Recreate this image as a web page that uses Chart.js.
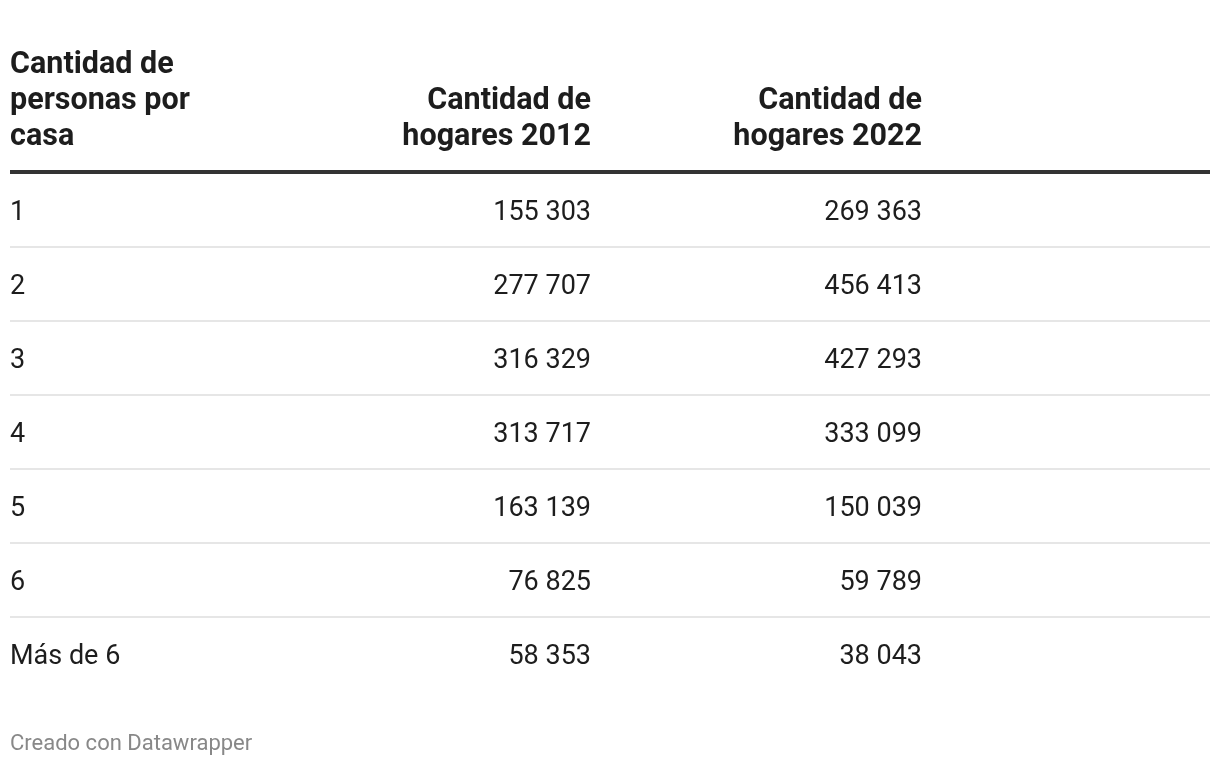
<!DOCTYPE html>
<html>
<head>
<meta charset="utf-8">
<script src="https://cdn.jsdelivr.net/npm/chart.js@4"></script>
<style>
	html, body { margin: 0; padding: 0; background: #fff; }
	#wrap { width: 1220px; height: 766px; position: relative; }
</style>
</head>
<body>
<div id="wrap"><canvas id="hogaresChart"></canvas></div>
<script>
// filas y columnas de la tabla
const personas = ["1", "2", "3", "4", "5", "6", "Más de 6"];
const hogares2012 = [155303, 277707, 316329, 313717, 163139, 76825, 58353];
const hogares2022 = [269363, 456413, 427293, 333099, 150039, 59789, 38043];
const encabezados = [
	["Cantidad de", "personas por", "casa"],
	["Cantidad de", "hogares 2012"],
	["Cantidad de", "hogares 2022"],
];
const pie = "Creado con Datawrapper";

const FONT = "Roboto, 'Noto Sans', sans-serif";
const colRight = [591, 922]; // borde derecho de cada columna numérica

function formatNum(v) {
	return String(v).replace(/\B(?=(\d{3})+(?!\d))/g, " ");
}

const tablePlugin = {
	id: "tablePlugin",
	afterDraw(chart) {
		const ctx = chart.ctx;
		const area = chart.chartArea;
		const yScale = chart.scales.y;
		ctx.save();

		// encabezados, alineados abajo
		ctx.font = "bold 30.5px " + FONT;
		ctx.fillStyle = "#1d1d1d";
		ctx.textBaseline = "alphabetic";
		const base = area.top - 28;
		encabezados.forEach((lines, c) => {
			ctx.textAlign = c === 0 ? "left" : "right";
			const x = c === 0 ? 10 : colRight[c - 1];
			lines.forEach((t, k) => {
				ctx.fillText(t, x, base - (lines.length - 1 - k) * 36);
			});
		});

		// línea gruesa bajo el encabezado
		ctx.strokeStyle = "#333";
		ctx.lineWidth = 4;
		ctx.beginPath();
		ctx.moveTo(area.left, area.top - 1);
		ctx.lineTo(area.right, area.top - 1);
		ctx.stroke();

		// etiquetas de fila
		ctx.font = "27px " + FONT;
		ctx.fillStyle = "#1d1d1d";
		ctx.textAlign = "left";
		personas.forEach((p, i) => {
			ctx.fillText(p, area.left, yScale.getPixelForValue(i) + 9.5);
		});

		// valores
		ctx.textAlign = "right";
		chart.data.datasets.forEach((ds, d) => {
			const meta = chart.getDatasetMeta(d);
			meta.data.forEach((bar, i) => {
				ctx.fillText(formatNum(ds.data[i]), colRight[d], bar.y + 9.5);
			});
		});

		// pie
		ctx.font = "22px " + FONT;
		ctx.fillStyle = "#888";
		ctx.textAlign = "left";
		ctx.fillText(pie, 10, 750);
		ctx.restore();
	},
};

new Chart(document.getElementById("hogaresChart"), {
	type: "bar",
	data: {
		labels: personas,
		datasets: [
			{ label: "Cantidad de hogares 2012", data: hogares2012, backgroundColor: "rgba(0,0,0,0)" },
			{ label: "Cantidad de hogares 2022", data: hogares2022, backgroundColor: "rgba(0,0,0,0)" },
		],
	},
	options: {
		indexAxis: "y",
		responsive: true,
		maintainAspectRatio: false,
		animation: false,
		grouped: false,
		layout: { padding: { top: 173, bottom: 75, left: 10, right: 10 } },
		scales: {
			x: { display: false, min: 0 },
			y: {
				display: true,
				border: { display: false },
				grid: {
					offset: true,
					drawTicks: false,
					lineWidth: 2,
					color: (c) => (c.type === "tick" && c.index > 0 ? "#e6e6e6" : "rgba(0,0,0,0)"),
				},
				ticks: { display: false },
			},
		},
		plugins: {
			legend: { display: false },
			tooltip: { enabled: false },
		},
	},
	plugins: [tablePlugin],
});
</script>
</body>
</html>
